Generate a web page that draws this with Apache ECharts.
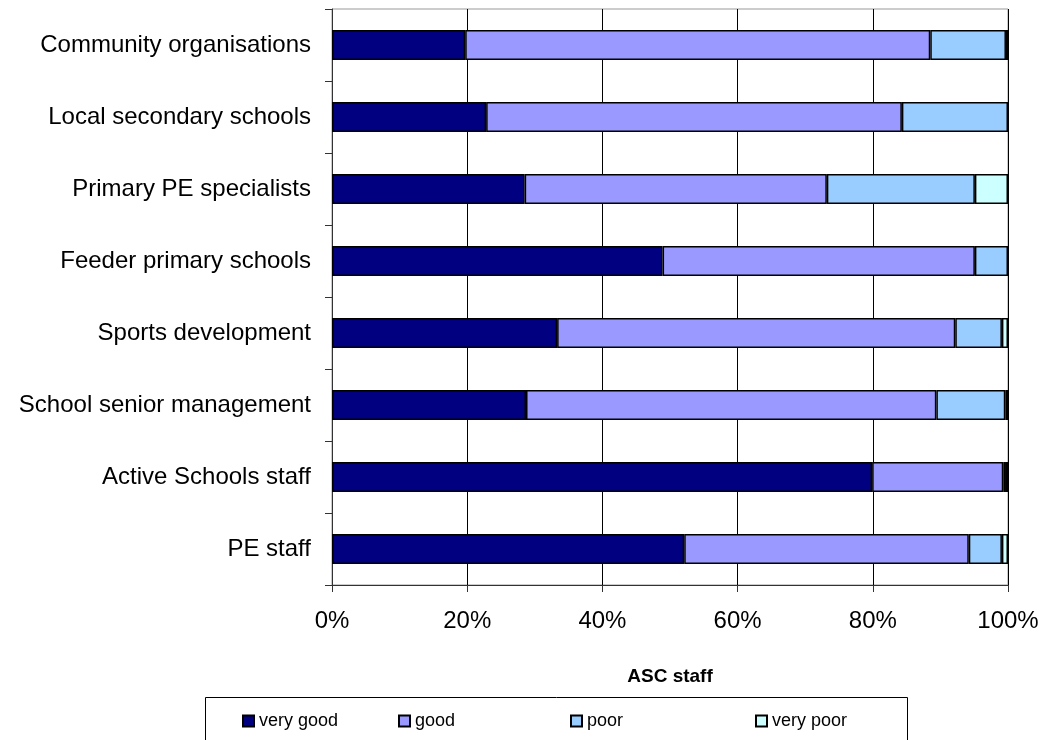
<!DOCTYPE html>
<html>
<head>
<meta charset="utf-8">
<script src="https://cdn.jsdelivr.net/npm/echarts@6/dist/echarts.min.js"></script>
<style>
  html, body { margin: 0; padding: 0; background: #fff; }
  #chart { width: 1044px; height: 740px; }
</style>
</head>
<body>
<div id="chart"></div>
<script>
// categories top to bottom
const categories = [
  'Community organisations',
  'Local secondary schools',
  'Primary PE specialists',
  'Feeder primary schools',
  'Sports development',
  'School senior management',
  'Active Schools staff',
  'PE staff'
]
const seriesNames = ['very good', 'good', 'poor', 'very poor']
const veryGood = [19.7, 22.8, 28.5, 48.9, 33.3, 28.7, 79.9, 52.1]
const good = [68.8, 61.5, 44.7, 46.2, 58.9, 60.7, 19.4, 42.1]
const poor = [11.2, 15.7, 21.9, 4.9, 6.9, 10.2, 0.4, 4.9]
const veryPoor = [0.3, 0, 4.9, 0, 0.9, 0.4, 0.3, 0.9]
const xTicks = [0, 20, 40, 60, 80, 100]

const colors = ['#000080', '#9999FF', '#99CCFF', '#CCFFFF']
const values = [veryGood, good, poor, veryPoor]
const font = 'Liberation Sans, Arial, sans-serif'

const chart = echarts.init(document.getElementById('chart'))

const series = seriesNames.map((name, i) => ({
  name: name,
  type: 'bar',
  stack: 'total',
  barWidth: 30,
  data: values[i],
  itemStyle: {
    color: colors[i],
    borderColor: '#000',
    borderWidth: 1.5
  },
  emphasis: { disabled: true }
}))

// one legend per item, so each sits where the reference puts it
const legendLeft = [237, 393, 565, 750]
const legends = seriesNames.map((name, i) => ({
  data: [name],
  left: legendLeft[i],
  top: 707,
  itemWidth: 11,
  itemHeight: 11,
  itemGap: 4,
  icon: 'rect',
  selectedMode: false,
  textStyle: { fontFamily: font, fontSize: 18, color: '#000', padding: [0, 0, 0, 0] }
}))

const option = {
  animation: false,
  backgroundColor: '#fff',
  grid: {
    left: 332,
    right: 36,
    top: 9,
    bottom: 155,
    show: true,
    borderColor: '#999',
    borderWidth: 1
  },
  legend: legends,
  xAxis: {
    type: 'value',
    min: xTicks[0],
    max: xTicks[xTicks.length - 1],
    interval: 20,
    name: 'ASC staff',
    nameLocation: 'middle',
    nameGap: 82,
    nameTextStyle: { fontFamily: font, fontSize: 19, fontWeight: 'bold', color: '#000' },
    axisLine: { show: true, lineStyle: { color: '#333', width: 1 } },
    axisTick: { show: true, length: 7, lineStyle: { color: '#333' } },
    axisLabel: {
      formatter: '{value}%',
      fontFamily: font,
      fontSize: 24,
      color: '#000',
      margin: 24
    },
    splitLine: { show: true, lineStyle: { color: '#000', width: 1 } }
  },
  yAxis: {
    type: 'category',
    data: categories,
    inverse: true,
    axisLine: { show: true, lineStyle: { color: '#333', width: 1 } },
    axisTick: { show: true, length: 7, lineStyle: { color: '#333' } },
    axisLabel: {
      fontFamily: font,
      fontSize: 24,
      color: '#000',
      margin: 21
    }
  },
  graphic: [
    {
      type: 'rect',
      shape: { x: 205.5, y: 697.5, width: 702, height: 60 },
      style: { fill: 'none', stroke: '#000', lineWidth: 1 },
      z: 0
    }
  ],
  series: series
}

chart.setOption(option)
</script>
</body>
</html>
